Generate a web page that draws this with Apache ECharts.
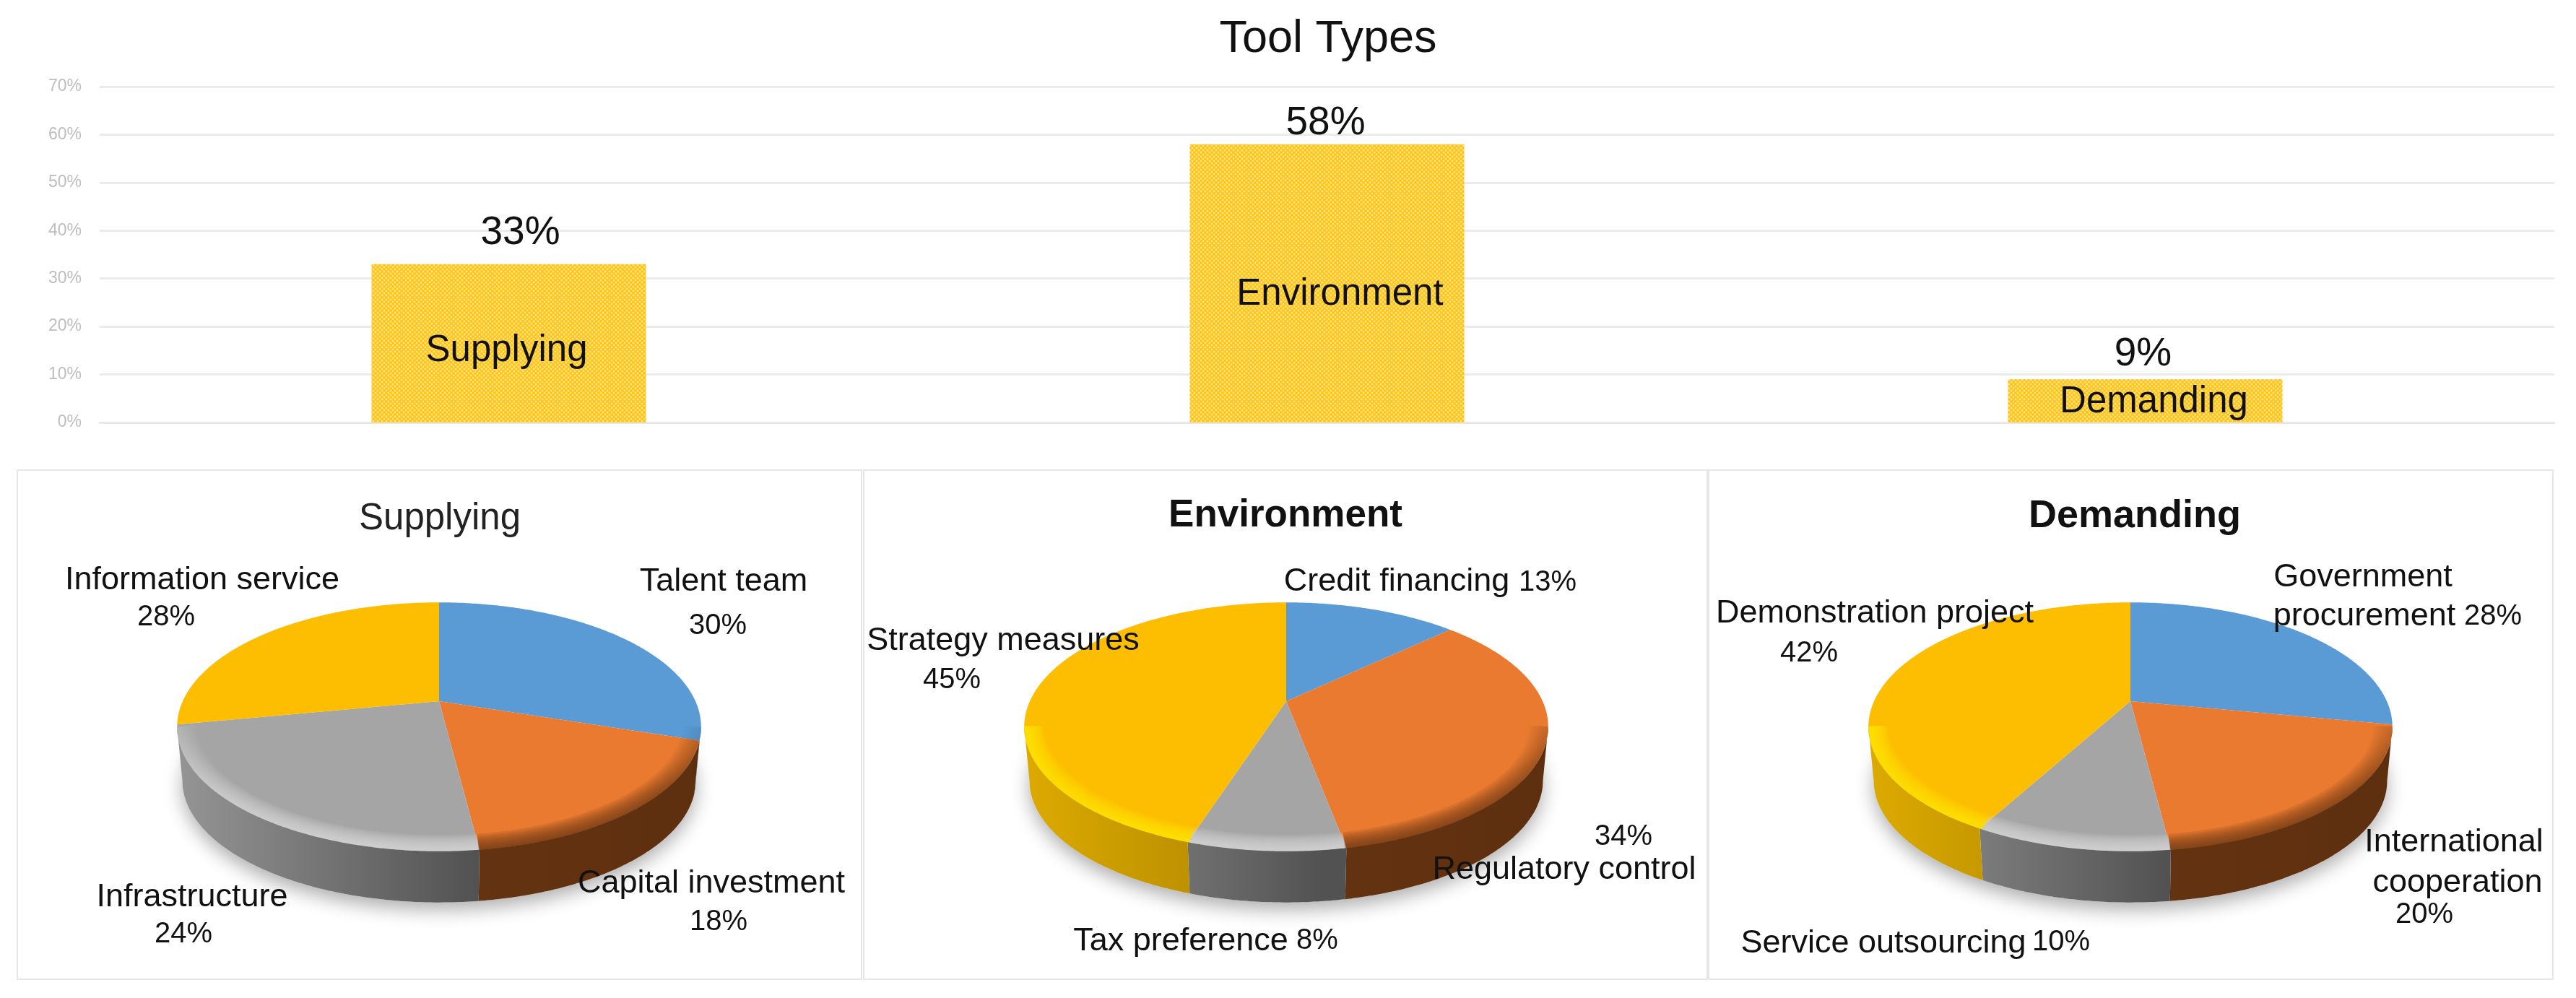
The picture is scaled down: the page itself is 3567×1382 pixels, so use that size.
<!DOCTYPE html>
<html><head><meta charset="utf-8">
<style>html,body{margin:0;padding:0;background:#fff}#c{width:3567px;height:1382px}</style>
<script src="https://cdn.jsdelivr.net/npm/echarts@6/dist/echarts.min.js"></script>
</head><body><div id="c"></div>
<script>
// ---------- data ----------
const toolCategories = ['Supplying', 'Environment', 'Demanding'];
const toolShares = [33, 58, 9];
const yTicksMax = 70;
const supplyingNames = ['Talent team', 'Capital investment', 'Infrastructure', 'Information service'];
const supplyingValues = [30, 18, 24, 28];
const environmentNames = ['Credit financing', 'Regulatory control', 'Tax preference', 'Strategy measures'];
const environmentValues = [13, 34, 8, 45];
const demandingNames = ['Government\nprocurement', 'International\ncooperation', 'Service outsourcing', 'Demonstration project'];
const demandingValues = [28, 20, 10, 42];

// ---------- layout and style ----------
const FONT = '"Liberation Sans", Arial, sans-serif';
const faceColors = ['#5b9bd5', '#e97a30', '#a5a5a5', '#fdbd00'];
const bevelColors = ['#3f719f', '#6e3712', '#d8d8d8', '#ffe800'];
const bevelWidths = [26, 23, 20, 17, 14, 11, 8, 5, 2];
const PIE = {A: 355, B: 165, k: 0.206, depth: 75, bottomScale: 0.98, halfWidth: 363};
// fragments: [kind, line index, cx, cy]; 'n' = name line, 'v' = percent
const labelPlaces = [
  [[['n',0,1002,806],['v',0,994,867]],
   [['n',0,985,1224],['v',0,995,1277]],
   [['n',0,266,1243],['v',0,254,1294]],
   [['n',0,280,804],['v',0,230,855]]],
  [[['n',0,1934,806],['v',0,2143,807]],
   [['n',0,2166,1205],['v',0,2248,1159]],
   [['n',0,1635,1304],['v',0,1824,1303]],
   [['n',0,1389,888],['v',0,1318,942]]],
  [[['n',0,3272,800],['n',1,3274,854],['v',0,3452,854]],
   [['n',0,3398,1167],['n',1,3403,1223],['v',0,3357,1267]],
   [['n',0,2608,1307],['v',0,2854,1305]],
   [['n',0,2596,850],['v',0,2505,905]]]
];
const pies = [
  {cx: 608, cy: 971, names: supplyingNames, values: supplyingValues},
  {cx: 1781, cy: 971, names: environmentNames, values: environmentValues},
  {cx: 2950, cy: 971, names: demandingNames, values: demandingValues}
];

function project(p, theta, r, dy, s) {
  const u = Math.sin(theta) * r, v = -Math.cos(theta) * r, d = 1 - PIE.k * v;
  return [p.cx + s * PIE.A * u / d, p.cy + dy + s * PIE.B * v / d];
}
function arc(p, a0, a1, r, dy, s) {
  const n = Math.max(2, Math.ceil(Math.abs(a1 - a0) / 0.01)), pts = [];
  for (let i = 0; i <= n; i++) pts.push(project(p, a0 + (a1 - a0) * i / n, r, dy, s));
  return pts;
}
// the part of [a0,a1] on the near side of the disc
function frontRange(a0, a1) {
  const from = Math.max(a0, Math.PI - Math.acos(PIE.k));
  const to = Math.min(a1, Math.PI + Math.acos(PIE.k));
  return from < to ? [from, to] : null;
}
function rgba(hex, a) {
  const n = parseInt(hex.slice(1), 16);
  return 'rgba(' + (n >> 16) + ',' + ((n >> 8) & 255) + ',' + (n & 255) + ',' + a + ')';
}
function wallFill(p, i) {
  const g = (c0, c1, x0, x1) => ({type: 'linear', global: true, x: p.cx + x0, y: 0, x2: p.cx + x1, y2: 0,
    colorStops: [{offset: 0, color: c0}, {offset: 1, color: c1}]});
  if (i === 2) return g('#959595', '#525252', -363, 50);
  if (i === 3) return g('#dcaa00', '#ac8300', -363, 0);
  if (i === 1) return g('#653411', '#5e2f0f', 0, 363);
  return g('#3a6a96', '#3a6a96', 0, 363);
}
function renderSlice(p, params, api) {
  const i = params.dataIndex, total = p.values.reduce((a, b) => a + b, 0);
  let before = 0;
  for (let j = 0; j < i; j++) before += p.values[j];
  const value = api.value(0);
  const a0 = before / total * 2 * Math.PI, a1 = (before + value) / total * 2 * Math.PI;
  const children = [];
  if (i === 0) {
    children.push({type: 'polygon', z2: 0, shape: {points: arc(p, 0, 2 * Math.PI, 1, PIE.depth, PIE.bottomScale)},
      style: {fill: '#ffffff', shadowColor: 'rgba(0,0,0,0.32)', shadowBlur: 26, shadowOffsetY: 10}});
  }
  children.push({type: 'polygon', z2: 2,
    shape: {points: [[p.cx, p.cy]].concat(arc(p, a0, a1, 1, 0, 1))},
    style: {fill: faceColors[i]}});
  const range = frontRange(a0, a1);
  if (range) {
    const top = arc(p, range[0], range[1], 1, 0, 1);
    const bottom = arc(p, range[1], range[0], 1, PIE.depth, PIE.bottomScale);
    children.push({type: 'polygon', z2: 5, shape: {points: top.concat(bottom)}, style: {fill: wallFill(p, i)}});
    const yTop = p.cy + 35, yFront = p.cy + 208;
    const alpha = 0.17;
    bevelWidths.forEach(width => {
      const r = 1 - (width / 2) / PIE.halfWidth;
      children.push({type: 'polyline', z2: 3, shape: {points: arc(p, range[0], range[1], r, 0, 1)},
        style: {fill: null, lineWidth: width, lineCap: 'butt', stroke: {type: 'linear', global: true, x: 0, y: yTop, x2: 0, y2: yFront,
          colorStops: [{offset: 0, color: rgba(bevelColors[i], i === 3 ? alpha : alpha * 0.2)},
                       {offset: 0.55, color: rgba(bevelColors[i], alpha * 0.75)},
                       {offset: 1, color: rgba(bevelColors[i], alpha)}]}}});
    });
  }
  labelPlaces[params.seriesIndex - 2][i].forEach(f => {
    const text = f[0] === 'n' ? p.names[i].split('\n')[f[1]] : value + '%';
    children.push({type: 'text', z2: 10, style: {
      text: text, x: f[2], y: f[3], fill: '#111111', align: 'center', verticalAlign: 'middle',
      font: (f[0] === 'n' ? '45px ' : '40px ') + FONT}});
  });
  return {type: 'group', children: children};
}

// bar fill texture
const tile = document.createElement('canvas');
tile.width = 6; tile.height = 6;
(function () {
  const g = tile.getContext('2d');
  g.fillStyle = '#ffcb2e'; g.fillRect(0, 0, 6, 6);
  g.fillStyle = '#ffe88f';
  [[0,0],[3,3]].forEach(d => { g.fillRect(d[0], d[1], 2, 2); });
  g.fillStyle = '#ffc21a';
  [[3,0],[0,3]].forEach(d => { g.fillRect(d[0], d[1], 2, 2); });
})();

const valueOffsets = [[16, -10], [-2, 4], [-3, -2]];
const nameOffsets = [[-3, 11], [18, 16], [12, 2]];

const chart = echarts.init(document.getElementById('c'), null, {renderer: 'canvas'});
chart.setOption({
  animation: false,
  backgroundColor: '#ffffff',
  title: [
    {text: 'Tool Types', left: 1834, top: 50, textAlign: 'center', textVerticalAlign: 'middle',
     textStyle: {fontFamily: FONT, fontSize: 63, fontWeight: 'normal', color: '#111111'}},
    {text: 'Supplying', left: 604, top: 714, textAlign: 'center', textVerticalAlign: 'middle',
     textStyle: {fontFamily: FONT, fontSize: 51, fontWeight: 'normal', color: '#222222'}},
    {text: 'Environment', left: 1775, top: 709, textAlign: 'center', textVerticalAlign: 'middle',
     textStyle: {fontFamily: FONT, fontSize: 53, fontWeight: 'bold', color: '#111111'}},
    {text: 'Demanding', left: 2951, top: 710, textAlign: 'center', textVerticalAlign: 'middle',
     textStyle: {fontFamily: FONT, fontSize: 54, fontWeight: 'bold', color: '#111111'}}
  ],
  graphic: [
    {type: 'rect', silent: true, z: -1, shape: {x: 24, y: 651, width: 1169, height: 705}, style: {fill: '#fff', stroke: '#e6e6e6', lineWidth: 2}},
    {type: 'rect', silent: true, z: -1, shape: {x: 1196, y: 651, width: 1168, height: 705}, style: {fill: '#fff', stroke: '#e6e6e6', lineWidth: 2}},
    {type: 'rect', silent: true, z: -1, shape: {x: 2366, y: 651, width: 1169, height: 705}, style: {fill: '#fff', stroke: '#e6e6e6', lineWidth: 2}}
  ],
  grid: {left: 138, right: 30, top: 120, height: 465, containLabel: false},
  xAxis: {type: 'category', data: toolCategories,
    axisLine: {lineStyle: {color: '#e8e8e8', width: 3}}, axisTick: {show: false}, axisLabel: {show: false}},
  yAxis: {type: 'value', min: 0, max: yTicksMax, interval: 10,
    axisLine: {show: false}, axisTick: {show: false},
    axisLabel: {formatter: '{value}%', fontFamily: FONT, fontSize: 23, color: '#bdbdbd', margin: 25},
    splitLine: {lineStyle: {color: '#ebebeb', width: 3}}},
  series: [
    {type: 'bar', barWidth: 380, data: toolShares.map((v, i) => ({value: v,
       label: {offset: valueOffsets[i]}})),
     itemStyle: {color: {image: tile, repeat: 'repeat'}},
     label: {show: true, position: 'top', formatter: '{c}%', fontFamily: FONT, fontSize: 55, color: '#111111'}},
    {type: 'bar', barWidth: 380, barGap: '-100%', data: toolShares.map((v, i) => ({value: v,
       label: {offset: nameOffsets[i]}})),
     itemStyle: {color: 'transparent'},
     label: {show: true, position: 'inside', formatter: '{b}', fontFamily: FONT, fontSize: 51, color: '#111111'}}
  ].concat(pies.map(p => ({
    type: 'custom', coordinateSystem: 'none', silent: true, clip: false,
    data: p.values.map((v, i) => ({name: p.names[i].replace('\n', ' '), value: [v]})),
    renderItem: (params, api) => renderSlice(p, params, api)
  })))
});
</script></body></html>
